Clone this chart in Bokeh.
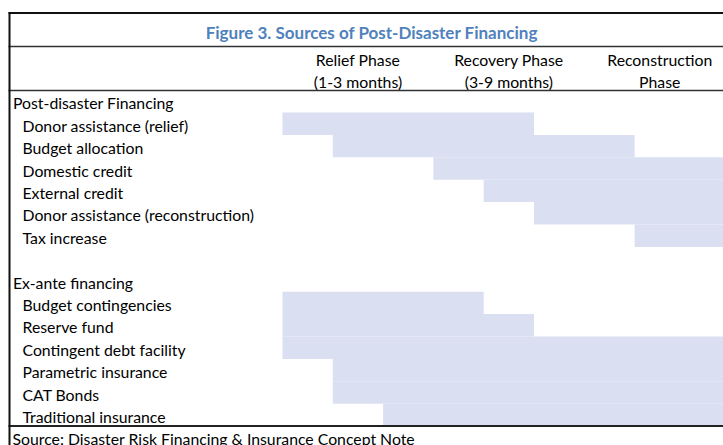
from bokeh.plotting import figure
from bokeh.models import Range1d, ColumnDataSource
from bokeh.embed import file_html
from bokeh.resources import INLINE
from bokeh.core.properties import value

# ---------------- data ----------------
title_text = "Figure 3. Sources of Post-Disaster Financing"
phase_line1 = ["Relief Phase", "Recovery Phase", "Reconstruction"]
phase_line2 = ["(1-3 months)", "(3-9 months)", "Phase"]
phase_start = [0, 3, 6]
phase_end = [3, 6, 9]

row_labels = [
    "Post-disaster Financing",
    "Donor assistance (relief)",
    "Budget allocation",
    "Domestic credit",
    "External credit",
    "Donor assistance (reconstruction)",
    "Tax increase",
    "",
    "Ex-ante financing",
    "Budget contingencies",
    "Reserve fund",
    "Contingent debt facility",
    "Parametric insurance",
    "CAT Bonds",
    "Traditional insurance",
]
row_is_group = [True, False, False, False, False, False, False, False,
                True, False, False, False, False, False, False]

# bars: row index, start column, end column
bar_rows = [1, 2, 3, 4, 5, 6, 9, 10, 11, 12, 13, 14]
bar_start = [0, 1, 3, 4, 5, 7, 0, 0, 0, 1, 1, 2]
bar_end = [5, 7, 9, 9, 9, 9, 4, 5, 9, 9, 9, 9]

source_note = "Source: Disaster Risk Financing & Insurance Concept Note"

# ---------------- layout (pixel geometry of the grid) ----------------
W, H = 723, 445
OFF = 0      # page offset of the plot
COL_PX = 50.3
ROW_PX = 22.4
X0 = 282.0   # picture x of column 0
Y0 = 89.6    # picture y of row 0


def dx(px):
    return (px - X0) / COL_PX


def dy(py):
    return (py - Y0) / ROW_PX


p = figure(width=W, height=H, output_backend="svg", toolbar_location=None,
           title=None, x_axis_location=None, y_axis_location=None,
           x_range=Range1d(dx(OFF), dx(OFF + W)),
           y_range=Range1d(dy(OFF + H), dy(OFF)),
           min_border=0, outline_line_color=None)
p.grid.visible = False
p.background_fill_color = "white"
p.border_fill_color = "white"

FONT = value("Lato")
FSV = 15.8
FS = f"{FSV}px"
TFSV = 17.0
SHIFT = 0.33 * FSV          # correction for rendered baseline
TSHIFT = 0.33 * TFSV

# bars
bsrc = ColumnDataSource(dict(
    left=bar_start, right=bar_end,
    top=[r for r in bar_rows], bottom=[r + 1 for r in bar_rows]))
p.quad(left="left", right="right", top="top", bottom="bottom", source=bsrc,
       fill_color="#DAE0F2", line_color=None)

# row labels
n = len(row_labels)
lsrc = ColumnDataSource(dict(
    x=[dx(12.5) if g else dx(22) for g in row_is_group],
    y=[r + 1 - (4.4 + SHIFT) / ROW_PX for r in range(n)],
    text=row_labels))
p.text(x="x", y="y", text="text", source=lsrc, text_font=FONT,
       text_font_size=FS, text_baseline="alphabetic", text_align="left",
       text_color="#000000")

# header
hx = [(a + b) / 2 for a, b in zip(phase_start, phase_end)]
p.text(x=hx, y=[dy(64 - SHIFT)] * 3, text=phase_line1, text_font=FONT,
       text_font_size=FS, text_baseline="alphabetic", text_align="center",
       text_color="#000000")
p.text(x=hx, y=[dy(86 - SHIFT)] * 3, text=phase_line2, text_font=FONT,
       text_font_size=FS, text_baseline="alphabetic", text_align="center",
       text_color="#000000")

# title
p.text(x=[(dx(8) + 9) / 2], y=[dy(37.5 - TSHIFT)], text=[title_text], text_font=FONT,
       text_font_size=f"{TFSV}px", text_font_style="bold", text_baseline="alphabetic",
       text_align="center", text_color="#4F81BD")

# source
p.text(x=[dx(12)], y=[n + 1 - (4.4 + SHIFT) / ROW_PX], text=[source_note], text_font=FONT,
       text_font_size=FS, text_baseline="alphabetic", text_align="left",
       text_color="#000000")

# rules
xl, xr = dx(8), 9.5
p.segment(x0=[xl], y0=[dy(12.5)], x1=[xr], y1=[dy(12.5)], line_color="#111111", line_width=2)
p.segment(x0=[xl], y0=[dy(46)], x1=[xr], y1=[dy(46)], line_color="#333333", line_width=1.5)
p.segment(x0=[xl], y0=[dy(90)], x1=[xr], y1=[dy(90)], line_color="#333333", line_width=1.5)
p.segment(x0=[xl], y0=[dy(425.6)], x1=[xr], y1=[dy(425.6)], line_color="#222222", line_width=2)
p.segment(x0=[dx(9)], y0=[dy(11.5)], x1=[dx(9)], y1=[dy(446)], line_color="#111111", line_width=2)

open("out.html", "w").write(file_html(p, INLINE))
